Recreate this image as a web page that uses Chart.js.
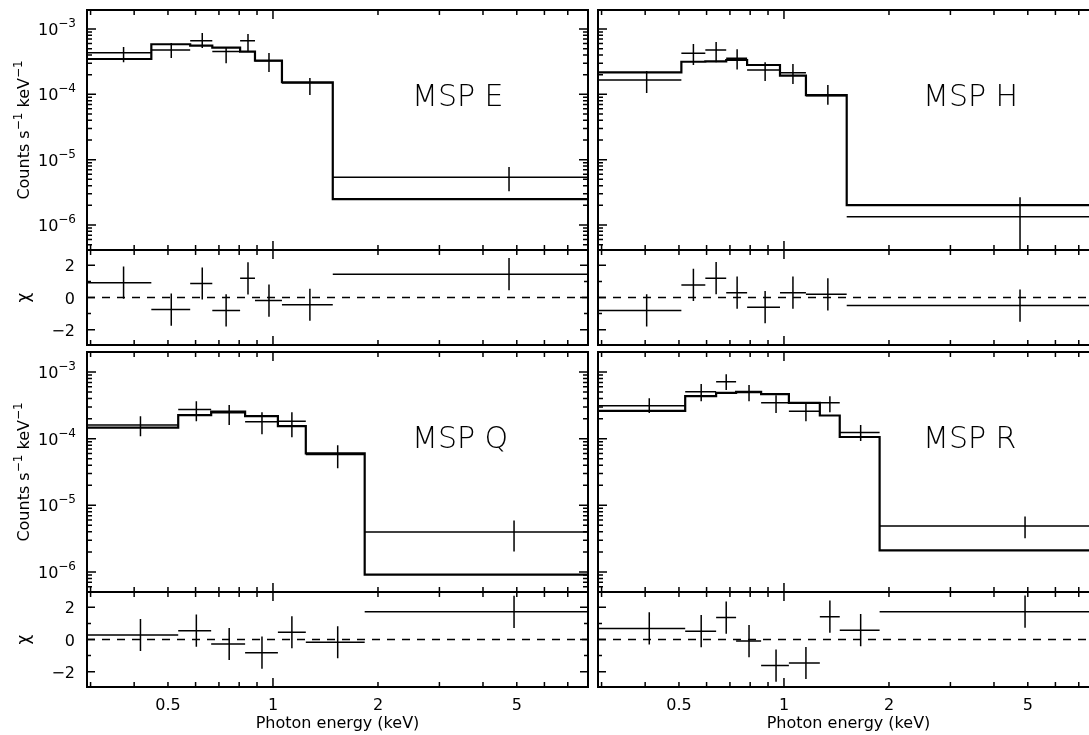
<!DOCTYPE html>
<html>
<head>
<meta charset="utf-8">
<script src="https://cdn.jsdelivr.net/npm/chart.js@4.4.1/dist/chart.umd.min.js"></script>
<style>
  html, body { margin: 0; padding: 0; background: #fff; overflow: hidden; width: 1089px; height: 735px; }
  canvas { position: absolute; left: 0; top: 0; }
</style>
</head>
<body>
<canvas id="specE"></canvas>
<canvas id="chiE"></canvas>
<canvas id="specH"></canvas>
<canvas id="chiH"></canvas>
<canvas id="specQ"></canvas>
<canvas id="chiQ"></canvas>
<canvas id="specR"></canvas>
<canvas id="chiR"></canvas>
<script>
// ---- MSP E ----
const eEdges   = [0.29, 0.448, 0.579, 0.670, 0.805, 0.888, 1.061, 1.484, 8.0];
const eCenters = [0.373, 0.511, 0.627, 0.734, 0.848, 0.974, 1.276, 4.75];
const eRate    = [4.33e-4, 4.77e-4, 6.62e-4, 4.5e-4, 6.62e-4, 3.27e-4, 1.49e-4, 5.4e-6];
const eRateLo  = [3.1e-4, 3.6e-4, 5.1e-4, 3.0e-4, 4.44e-4, 2.2e-4, 9.8e-5, 3.3e-6];
const eRateHi  = [5.3e-4, 6.1e-4, 8.7e-4, 5.3e-4, 8.4e-4, 4.3e-4, 1.78e-4, 7.7e-6];
const eModel   = [3.47e-4, 5.83e-4, 5.55e-4, 5.18e-4, 4.5e-4, 3.28e-4, 1.53e-4, 2.5e-6];
const eChi     = [0.92, -0.75, 0.87, -0.8, 1.19, -0.19, -0.45, 1.45];

// ---- MSP H ----
const hEdges   = [0.29, 0.508, 0.595, 0.683, 0.784, 0.974, 1.156, 1.513, 8.0];
const hCenters = [0.404, 0.550, 0.639, 0.734, 0.883, 1.061, 1.336, 4.75];
const hRate    = [1.66e-4, 4.25e-4, 4.77e-4, 3.56e-4, 2.35e-4, 2.14e-4, 9.5e-5, 1.34e-6];
const hRateLo  = [1.05e-4, 2.8e-4, 3.1e-4, 2.4e-4, 1.6e-4, 1.44e-4, 6.9e-5, 1e-9];
const hRateHi  = [2.28e-4, 5.9e-4, 6.3e-4, 4.9e-4, 3.1e-4, 2.9e-4, 1.39e-4, 2.67e-6];
const hModel   = [2.17e-4, 3.15e-4, 3.2e-4, 3.35e-4, 2.81e-4, 1.93e-4, 9.75e-5, 2.02e-6];
const hChi     = [-0.8, 0.78, 1.2, 0.3, -0.6, 0.3, 0.2, -0.5];

// ---- MSP Q ----
const qEdges   = [0.29, 0.535, 0.665, 0.832, 1.033, 1.242, 1.832, 8.0];
const qCenters = [0.417, 0.603, 0.749, 0.930, 1.133, 1.533, 4.91];
const qRate    = [1.6e-4, 2.75e-4, 2.45e-4, 1.79e-4, 1.82e-4, 5.8e-5, 3.96e-6];
const qRateLo  = [1.09e-4, 1.83e-4, 1.6e-4, 1.17e-4, 1.05e-4, 3.6e-5, 2.03e-6];
const qRateHi  = [2.18e-4, 3.66e-4, 3.19e-4, 2.5e-4, 2.5e-4, 8e-5, 5.9e-6];
const qModel   = [1.47e-4, 2.26e-4, 2.55e-4, 2.18e-4, 1.54e-4, 6.0e-5, 9.1e-7];
const qChi     = [0.28, 0.55, -0.28, -0.82, 0.45, -0.17, 1.72];

// ---- MSP R ----
const rEdges   = [0.29, 0.521, 0.639, 0.729, 0.860, 1.033, 1.267, 1.445, 1.880, 8.0];
const rCenters = [0.411, 0.579, 0.683, 0.794, 0.949, 1.156, 1.354, 1.659, 4.91];
const rRate    = [3.11e-4, 5.06e-4, 7.15e-4, 4.95e-4, 3.45e-4, 2.59e-4, 3.45e-4, 1.24e-4, 4.89e-6];
const rRateLo  = [2.42e-4, 3.66e-4, 5.36e-4, 3.66e-4, 2.42e-4, 1.83e-4, 2.5e-4, 9.2e-5, 3.2e-6];
const rRateHi  = [4.06e-4, 6.6e-4, 9.3e-4, 6.4e-4, 4.5e-4, 3.42e-4, 4.35e-4, 1.6e-4, 6.8e-6];
const rModel   = [2.62e-4, 4.35e-4, 4.88e-4, 5.06e-4, 4.67e-4, 3.45e-4, 2.23e-4, 1.06e-4, 2.1e-6];
const rChi     = [0.69, 0.52, 1.36, -0.1, -1.62, -1.46, 1.42, 0.58, 1.73];

// ---- axes / ticks ----
const X_MIN = 0.293, X_MAX = 8.0;
const xMinorTicks = [0.3, 0.4, 0.5, 0.6, 0.7, 0.8, 0.9, 2, 3, 4, 5, 6, 7, 8];
const xMajorTicks = [1];
const xTickLabels = [0.5, 1, 2, 5];
const decadeTicks = [1e-6, 1e-5, 1e-4, 1e-3];
const chiTicks = [-2, -1, 0, 1, 2];
const chiTickLabels = [-2, 0, 2];

const FONT = '"DejaVu Sans", "Liberation Sans", sans-serif';
const W = 1112, H = 735;
const COLS = { left: [87, 588], right: [598, 1099] };
const ROWS = { specTop: [10, 250], resTop: [250, 345], specBot: [352, 592], resBot: [592, 687] };

const specTopY = { type: 'logarithmic', min: 4.15e-7, max: 1.95e-3 };
const specBotY = { type: 'logarithmic', min: 5e-7, max: 2e-3 };
const chiY = { type: 'linear', min: -2.95, max: 2.95 };

// superscript-style text pieces: [text, size, raise]
function drawPieces(ctx, pieces, x, y) {
    let cx = x;
    pieces.forEach(p => {
        ctx.font = p[1] + 'px ' + FONT;
        ctx.fillText(p[0], cx, y - p[2]);
        cx += ctx.measureText(p[0]).width;
    });
}
function piecesWidth(ctx, pieces) {
    return pieces.reduce((s, p) => { ctx.font = p[1] + 'px ' + FONT; return s + ctx.measureText(p[0]).width; }, 0);
}

// PGPLOT style frame: box, inward ticks, labels
const pgFrame = {
    id: 'pgFrame',
    afterDraw(chart, args, o) {
        const ctx = chart.ctx, a = chart.chartArea;
        const xs = chart.scales.x, ys = chart.scales.y;
        ctx.save();
        ctx.strokeStyle = '#000';
        ctx.fillStyle = '#000';
        ctx.lineWidth = 2;
        ctx.strokeRect(a.left, a.top, a.right - a.left, a.bottom - a.top);

        ctx.lineWidth = 1.5;
        ctx.beginPath();
        const xt = (v, len) => {
            const p = xs.getPixelForValue(v);
            ctx.moveTo(p, a.bottom); ctx.lineTo(p, a.bottom - len);
            ctx.moveTo(p, a.top); ctx.lineTo(p, a.top + len);
        };
        const yt = (v, len) => {
            const p = ys.getPixelForValue(v);
            ctx.moveTo(a.left, p); ctx.lineTo(a.left + len, p);
            ctx.moveTo(a.right, p); ctx.lineTo(a.right - len, p);
        };
        xMinorTicks.forEach(v => xt(v, 5));
        xMajorTicks.forEach(v => xt(v, 9));
        if (o.kind === 'spec') {
            for (let d = -7; d <= -2; d++) {
                for (let m = 1; m <= 9; m++) {
                    const v = m * Math.pow(10, d);
                    if (v >= ys.min && v <= ys.max) yt(v, m === 1 ? 9 : 5);
                }
            }
        } else {
            chiTicks.forEach(v => yt(v, v % 2 === 0 ? 8 : 4));
        }
        ctx.stroke();

        if (o.yLabels) {
            ctx.textBaseline = 'alphabetic';
            if (o.kind === 'spec') {
                decadeTicks.forEach(v => {
                    const p = ys.getPixelForValue(v);
                    const e = Math.round(Math.log10(v));
                    const pieces = [['10', 16, 0], ['\u2212' + Math.abs(e), 12, 8]];
                    ctx.textAlign = 'left';
                    drawPieces(ctx, pieces, 76 - piecesWidth(ctx, pieces), p + 6);
                });
                // rotated title
                const title = [['Counts s', 16, 0], ['\u22121', 12, 7], [' keV', 16, 0], ['\u22121', 12, 7]];
                ctx.save();
                ctx.translate(29, (a.top + a.bottom) / 2);
                ctx.rotate(-Math.PI / 2);
                ctx.textAlign = 'left';
                drawPieces(ctx, title, -piecesWidth(ctx, title) / 2, 0);
                ctx.restore();
            } else {
                ctx.font = '16px ' + FONT;
                ctx.textAlign = 'right';
                chiTickLabels.forEach(v => {
                    const p = ys.getPixelForValue(v);
                    ctx.fillText(v < 0 ? '\u2212' + Math.abs(v) : String(v), 75, p + 6);
                });
                ctx.save();
                ctx.translate(29, (a.top + a.bottom) / 2);
                ctx.rotate(-Math.PI / 2);
                ctx.font = '17px ' + FONT;
                ctx.textAlign = 'center';
                ctx.fillText('\u03c7', 0, 0);
                ctx.restore();
            }
        }

        if (o.xLabels) {
            ctx.font = '16px ' + FONT;
            ctx.textAlign = 'center';
            ctx.textBaseline = 'alphabetic';
            xTickLabels.forEach(v => ctx.fillText(String(v), xs.getPixelForValue(v), a.bottom + 23));
            ctx.fillText('Photon energy (keV)', (a.left + a.right) / 2, a.bottom + 41);
        }

        if (o.label) {
            ctx.font = '200 30px ' + FONT;
            ctx.textAlign = 'left';
            ctx.textBaseline = 'alphabetic';
            ctx.fillText(o.label, a.left + 325, a.top + 96);
        }
        ctx.restore();
    }
};

// model histogram as a stepped line (horizontal first, then the step)
function stepPoints(edges, vals) {
    const pts = vals.map((v, i) => ({ x: edges[i], y: v }));
    pts.push({ x: edges[edges.length - 1], y: vals[vals.length - 1] });
    return pts;
}

// data crosses: bin-wide horizontal bar + vertical error bar, gaps between
function crossPoints(edges, centers, y, lo, hi) {
    const pts = [];
    centers.forEach((c, i) => {
        pts.push({ x: edges[i], y: y[i] }, { x: edges[i + 1], y: y[i] }, { x: c, y: null });
        pts.push({ x: c, y: lo[i] }, { x: c, y: hi[i] }, { x: c, y: null });
    });
    return pts;
}

function makePanel(id, col, row, yScale, datasets, frame) {
    const [l, r] = COLS[col], [t, b] = ROWS[row];
    const cv = document.getElementById(id);
    cv.width = W; cv.height = H;
    return new Chart(cv, {
        type: 'line',
        data: { datasets: datasets },
        options: {
            responsive: false,
            animation: false,
            devicePixelRatio: 1,
            events: [],
            layout: { padding: { left: l, right: W - r, top: t, bottom: H - b } },
            plugins: { legend: { display: false }, tooltip: { enabled: false }, pgFrame: frame },
            scales: {
                x: { type: 'logarithmic', min: X_MIN, max: X_MAX, display: false },
                y: Object.assign({ display: false }, yScale)
            },
            elements: { point: { radius: 0 }, line: { tension: 0 } }
        },
        plugins: [pgFrame]
    });
}

function makeSpectrum(id, col, row, yScale, edges, centers, rate, lo, hi, model, frame) {
    makePanel(id, col, row, yScale, [
        { data: stepPoints(edges, model), stepped: 'before', borderColor: '#000', borderWidth: 2.2, spanGaps: false },
        { data: crossPoints(edges, centers, rate, lo, hi), borderColor: '#000', borderWidth: 1.5, spanGaps: false }
    ], Object.assign({ kind: 'spec' }, frame));
}

function makeChi(id, col, row, edges, centers, chi, frame) {
    const lo = chi.map(v => v - 1), hi = chi.map(v => v + 1);
    makePanel(id, col, row, chiY, [
        { data: [{ x: X_MIN, y: 0 }, { x: X_MAX, y: 0 }], borderColor: '#000', borderWidth: 1.5, borderDash: [8, 7] },
        { data: crossPoints(edges, centers, chi, lo, hi), borderColor: '#000', borderWidth: 1.5, spanGaps: false }
    ], Object.assign({ kind: 'chi' }, frame));
}

makeSpectrum('specE', 'left', 'specTop', specTopY, eEdges, eCenters, eRate, eRateLo, eRateHi, eModel, { label: 'MSP E', yLabels: true });
makeChi('chiE', 'left', 'resTop', eEdges, eCenters, eChi, { yLabels: true });
makeSpectrum('specH', 'right', 'specTop', specTopY, hEdges, hCenters, hRate, hRateLo, hRateHi, hModel, { label: 'MSP H' });
makeChi('chiH', 'right', 'resTop', hEdges, hCenters, hChi, {});
makeSpectrum('specQ', 'left', 'specBot', specBotY, qEdges, qCenters, qRate, qRateLo, qRateHi, qModel, { label: 'MSP Q', yLabels: true });
makeChi('chiQ', 'left', 'resBot', qEdges, qCenters, qChi, { yLabels: true, xLabels: true });
makeSpectrum('specR', 'right', 'specBot', specBotY, rEdges, rCenters, rRate, rRateLo, rRateHi, rModel, { label: 'MSP R' });
makeChi('chiR', 'right', 'resBot', rEdges, rCenters, rChi, { xLabels: true });
</script>
</body>
</html>
